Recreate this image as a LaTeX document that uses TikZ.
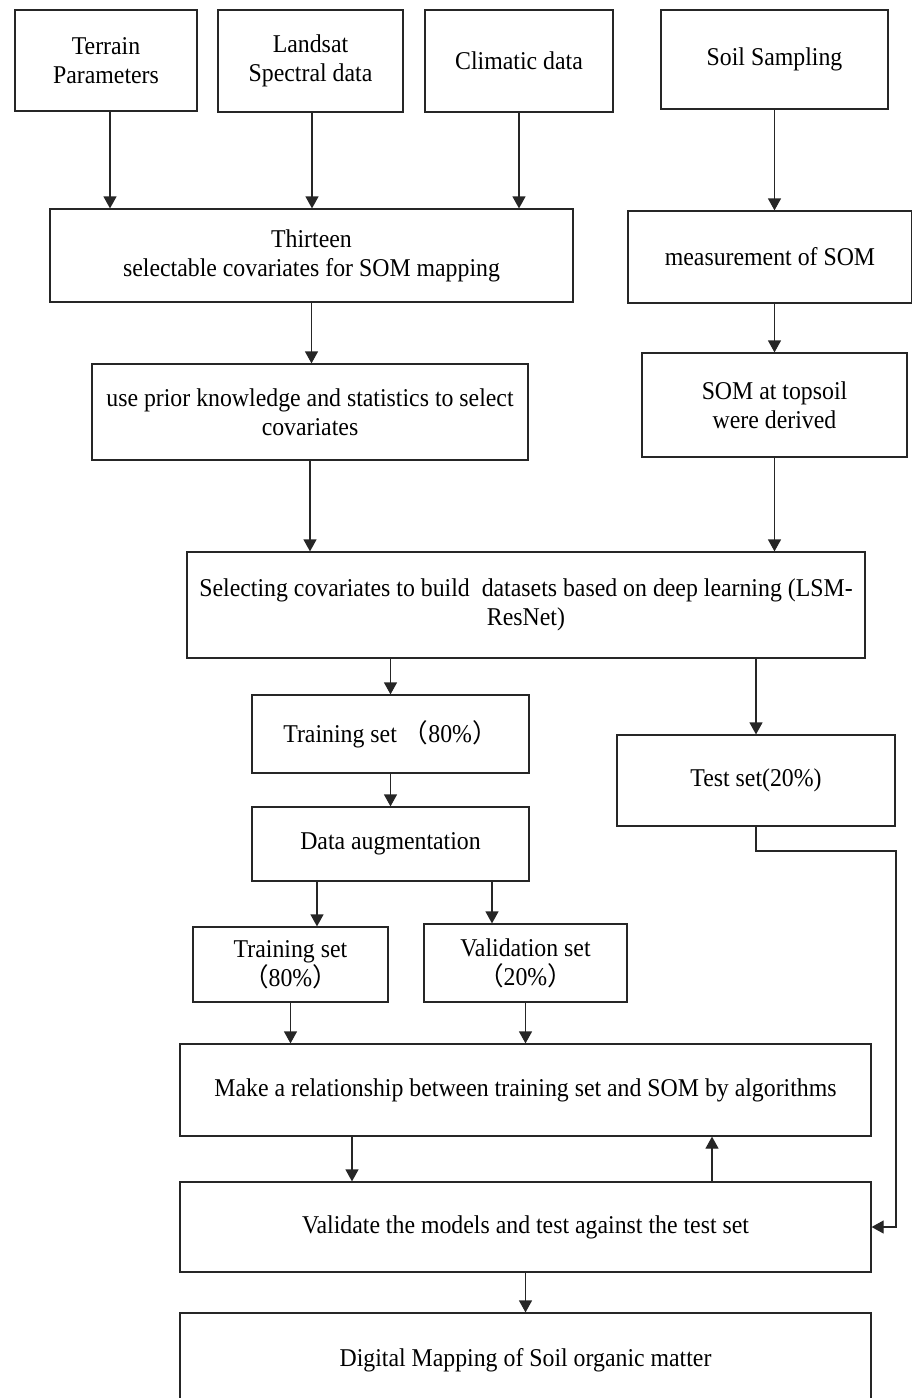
\documentclass[tikz,border=0pt]{standalone}
\usepackage{fontspec}
\setmainfont{Liberation Serif}[FakeStretch=0.93]
\newfontfamily\cjkfont{Noto Sans CJK SC}
\usetikzlibrary{arrows.meta}

\newcommand{\lpar}{{\cjkfont （}}
\newcommand{\rpar}{{\cjkfont ）}}

\tikzset{
  blk/.style n args={2}{draw=black!85, line width=0.6pt, minimum width=#1*0.5pt,
    minimum height=#2*0.5pt, inner sep=0pt, align=center,
    font=\fontsize{12.8}{14.5}\selectfont},
  arr/.style={draw=black!85, line width=0.6pt, -{Triangle[length=6pt,width=6.5pt]}}
}

\begin{document}
\begin{tikzpicture}[x=0.5pt, y=-0.5pt]
\useasboundingbox (0,0) rectangle (911,1398);

\node[blk={182}{101}] (terrain) at (106,60.5) {Terrain\\Parameters};
\node[blk={185}{102}] (landsat) at (310.5,61) {Landsat\\Spectral data};
\node[blk={188}{102}] (climate) at (519,61) {Climatic data};
\node[blk={227}{99}] (sampling) at (774.5,59.5) {Soil Sampling};

\node[blk={523}{93}] (covars) at (311.5,255.5) {Thirteen\\selectable covariates for SOM mapping};
\node[blk={284}{92}] (measure) at (770,257) {measurement of SOM};

\node[blk={436}{96}] (prior) at (310,412) {use prior knowledge and statistics to select\\covariates};
\node[blk={265}{104}] (topsoil) at (774.5,405) {SOM at topsoil\\were derived};

\node[blk={678}{106}] (dataset) at (526,605) {Selecting covariates to build\ \ datasets based on deep learning (LSM-\\ResNet)};

\node[blk={277}{78}] (train) at (390.5,734) {Training set \lpar 80\%\rpar};
\node[blk={278}{91}] (test) at (756,780.5) {Test set(20\%)};
\node[blk={277}{74}] (augment) at (390.5,844) {Data augmentation};

\node[blk={195}{75}] (trainsub) at (290.5,964.5) {Training set\\\lpar 80\%\rpar};
\node[blk={203}{78}] (valsub) at (525.5,963) {Validation set\\\lpar 20\%\rpar};

\node[blk={691}{92}] (relate) at (525.5,1090) {Make a relationship between training set and SOM by algorithms};
\node[blk={691}{90}] (validate) at (525.5,1227) {Validate the models and test against the test set};
\node[blk={691}{94}] (mapping) at (525.5,1360) {Digital Mapping of Soil organic matter};

% inputs
\draw[arr] (terrain.south -| 110,0) -- (covars.north -| 110,0);
\draw[arr] (landsat.south -| 312,0) -- (covars.north -| 312,0);
\draw[arr] (climate.south) -- (covars.north -| climate.south);
\draw[arr] (sampling.south) -- (measure.north -| sampling.south);

\draw[arr] (covars.south) -- (prior.north -| covars.south);
\draw[arr] (measure.south -| topsoil.north) -- (topsoil.north);
\draw[arr] (prior.south) -- (dataset.north -| prior.south);
\draw[arr] (topsoil.south) -- (dataset.north -| topsoil.south);

% split
\draw[arr] (dataset.south -| train.north) -- (train.north);
\draw[arr] (dataset.south -| test.north) -- (test.north);
\draw[arr] (train.south) -- (augment.north);
\draw[arr] (augment.south -| 317,0) -- (trainsub.north -| 317,0);
\draw[arr] (augment.south -| 492,0) -- (valsub.north -| 492,0);
\draw[arr] (trainsub.south) -- (relate.north -| trainsub.south);
\draw[arr] (valsub.south) -- (relate.north -| valsub.south);

% models
\draw[arr] (relate.south -| 352,0) -- (validate.north -| 352,0);
\draw[arr] (validate.north -| 712,0) -- (relate.south -| 712,0);
\coordinate (bend) at (896,851);
\draw[arr] (test.south) |- (bend) |- (validate.east);
\draw[arr] (validate.south) -- (mapping.north);
\end{tikzpicture}
\end{document}
